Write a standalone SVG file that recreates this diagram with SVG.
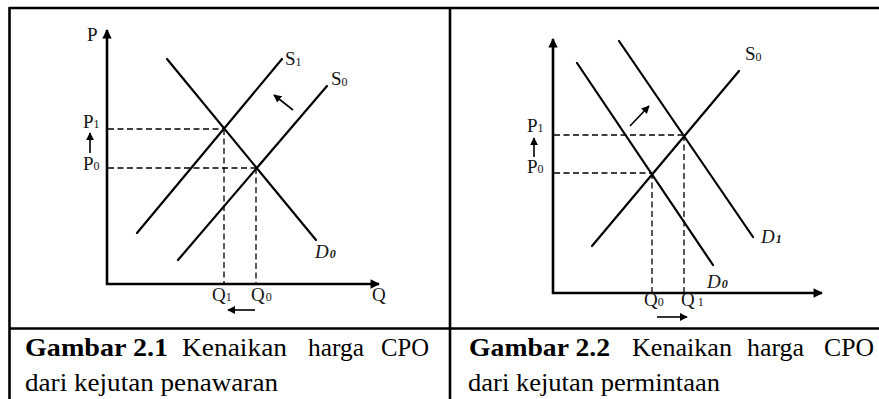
<svg xmlns="http://www.w3.org/2000/svg" width="879" height="399" viewBox="0 0 879 399">
<defs>
<style>
.frame{stroke:#000;stroke-width:2.6;fill:none}
.axis{stroke:#000;stroke-width:2.6;fill:none}
.curve{stroke:#000;stroke-width:2.2;fill:none;stroke-linecap:round}
.dash{stroke:#000;stroke-width:1.3;fill:none;stroke-dasharray:6 3.5}
.sm{stroke:#000;stroke-width:1.6;fill:none}
.lbl{font-family:"Liberation Serif","Times New Roman",serif;font-size:19px;fill:#141414}
.sub{font-size:12px}
.it{font-style:italic}
.cap{font-family:"Liberation Serif","Times New Roman",serif;font-size:26px;fill:#000}
.b{font-weight:bold}
</style>
<marker id="ax" viewBox="0 0 10 10" refX="9" refY="5" markerWidth="4" markerHeight="3.6" orient="auto" markerUnits="strokeWidth">
<path d="M0,0 L10,5 L0,10 z" fill="#000"/>
</marker>
<marker id="sa" viewBox="0 0 10 10" refX="9" refY="5" markerWidth="5" markerHeight="5" orient="auto" markerUnits="strokeWidth">
<path d="M0,0 L10,5 L0,10 z" fill="#000"/>
</marker>
</defs>
<rect width="879" height="399" fill="#fff"/>

<g id="table">
<line class="frame" x1="9.5" y1="8" x2="879" y2="8"/>
<line class="frame" x1="9.5" y1="7" x2="9.5" y2="399"/>
<line class="frame" x1="450" y1="7" x2="450" y2="399"/>
<line class="frame" x1="9.5" y1="328.5" x2="879" y2="328.5"/>
</g>

<g id="graph1">
<g id="g1-axes">
<line class="axis" x1="107" y1="285" x2="107" y2="30" marker-end="url(#ax)"/>
<line class="axis" x1="106" y1="284" x2="379" y2="284" marker-end="url(#ax)"/>
</g>
<g id="g1-connectors">
<line class="dash" x1="108" y1="129" x2="224" y2="129"/>
<line class="dash" x1="224" y1="129" x2="224" y2="283"/>
<line class="dash" x1="108" y1="168" x2="256" y2="168"/>
<line class="dash" x1="256" y1="168" x2="256" y2="283"/>
</g>
<g id="g1-S1"><line class="curve" x1="137" y1="233" x2="282" y2="59"/>
<text class="lbl" x="285" y="65" font-size="17">S<tspan class="sub" dy="1">1</tspan></text></g>
<g id="g1-S0"><line class="curve" x1="178" y1="260" x2="327" y2="86"/>
<text class="lbl" x="331" y="85" font-size="18">S<tspan class="sub" dy="1">0</tspan></text></g>
<g id="g1-D0"><line class="curve" x1="167" y1="59" x2="316" y2="240"/>
<text class="lbl it" x="315" y="258">D<tspan class="sub b" dx="1">0</tspan></text></g>
<g id="g1-labels">
<text class="lbl" x="87" y="41">P</text>
<text class="lbl" x="83" y="128">P<tspan class="sub">1</tspan></text>
<text class="lbl" x="83" y="170">P<tspan class="sub">0</tspan></text>
<text class="lbl" x="212" y="301">Q<tspan class="sub">1</tspan></text>
<text class="lbl" x="251" y="301">Q<tspan class="sub" dx="1">0</tspan></text>
<text class="lbl" x="372" y="301">Q</text>
</g>
<g id="g1-arrows">
<line class="sm" x1="90" y1="153" x2="90" y2="133" marker-end="url(#sa)"/>
<line class="sm" x1="255" y1="310" x2="228" y2="310" marker-end="url(#sa)"/>
<line class="sm" x1="293" y1="110" x2="274" y2="95" marker-end="url(#sa)"/>
</g>
</g>

<g id="graph2">
<g id="g2-axes">
<line class="axis" x1="553" y1="294" x2="553" y2="39" marker-end="url(#ax)"/>
<line class="axis" x1="552" y1="293" x2="822" y2="293" marker-end="url(#ax)"/>
</g>
<g id="g2-connectors">
<line class="dash" x1="554" y1="135" x2="684" y2="135"/>
<line class="dash" x1="684" y1="135" x2="684" y2="292"/>
<line class="dash" x1="554" y1="173" x2="652" y2="173"/>
<line class="dash" x1="652" y1="173" x2="652" y2="292"/>
</g>
<g id="g2-S0"><line class="curve" x1="592" y1="246" x2="739" y2="71"/>
<text class="lbl" x="745" y="60" font-size="18">S<tspan class="sub" dy="1">0</tspan></text></g>
<g id="g2-D0"><line class="curve" x1="577" y1="63" x2="713" y2="265"/>
<text class="lbl it" x="707" y="288">D<tspan class="sub b" dx="1">0</tspan></text></g>
<g id="g2-D1"><line class="curve" x1="619" y1="41" x2="753" y2="237"/>
<text class="lbl it" x="761" y="243">D<tspan class="sub b" dx="1">1</tspan></text></g>
<g id="g2-labels">
<text class="lbl" x="527" y="132">P<tspan class="sub">1</tspan></text>
<text class="lbl" x="527" y="173">P<tspan class="sub">0</tspan></text>
<text class="lbl" x="644" y="306">Q<tspan class="sub">0</tspan></text>
<text class="lbl" x="681" y="306">Q<tspan class="sub" dx="3">1</tspan></text>
</g>
<g id="g2-arrows">
<line class="sm" x1="534" y1="157" x2="534" y2="138" marker-end="url(#sa)"/>
<line class="sm" x1="657" y1="317" x2="687" y2="317" marker-end="url(#sa)"/>
<line class="sm" x1="630" y1="126" x2="649" y2="106" marker-end="url(#sa)"/>
</g>
</g>

<g id="caption1">
<text class="cap b" x="25" y="356" textLength="143" lengthAdjust="spacingAndGlyphs">Gambar 2.1</text>
<text class="cap" x="182" y="356" textLength="105" lengthAdjust="spacingAndGlyphs">Kenaikan</text>
<text class="cap" x="308" y="356" textLength="56" lengthAdjust="spacingAndGlyphs">harga</text>
<text class="cap" x="381" y="356" textLength="48" lengthAdjust="spacingAndGlyphs">CPO</text>
<text class="cap" x="25" y="391" textLength="253" lengthAdjust="spacingAndGlyphs">dari kejutan penawaran</text>
</g>
<g id="caption2">
<text class="cap b" x="469" y="356" textLength="141" lengthAdjust="spacingAndGlyphs">Gambar 2.2</text>
<text class="cap" x="632" y="356" textLength="100" lengthAdjust="spacingAndGlyphs">Kenaikan</text>
<text class="cap" x="747" y="356" textLength="57" lengthAdjust="spacingAndGlyphs">harga</text>
<text class="cap" x="824" y="356" textLength="50" lengthAdjust="spacingAndGlyphs">CPO</text>
<text class="cap" x="468" y="391" textLength="252" lengthAdjust="spacingAndGlyphs">dari kejutan permintaan</text>
</g>
</svg>
